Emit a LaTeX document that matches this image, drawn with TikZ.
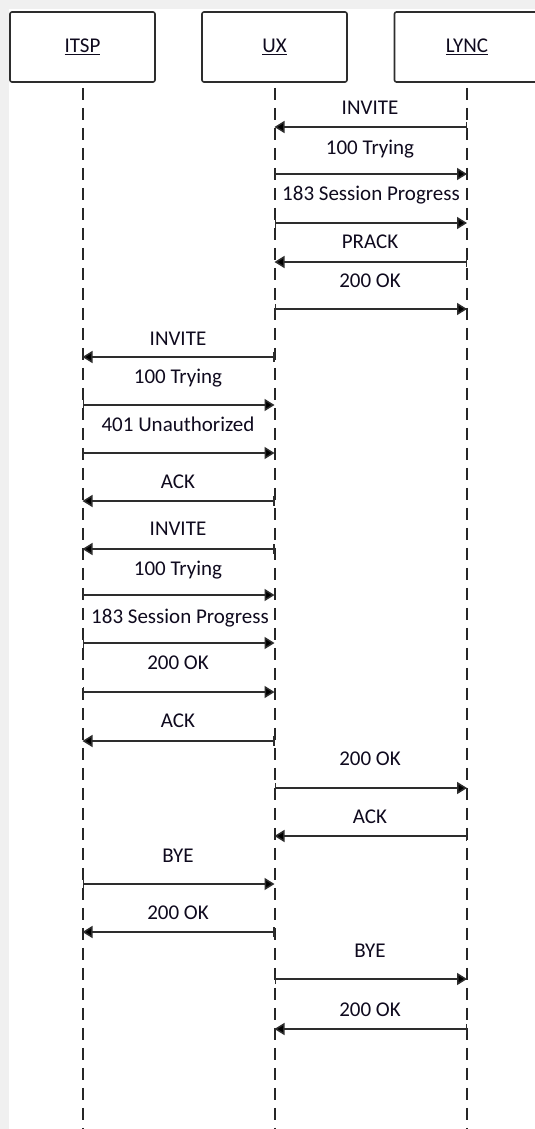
\documentclass[tikz,border=0pt]{standalone}
\usepackage{fontspec}
\setmainfont{Carlito}
\usepackage{xcolor}
\definecolor{sqgray}{RGB}{240,240,240}
\definecolor{sqline}{RGB}{45,45,45}
\definecolor{sqtext}{RGB}{15,10,30}
\usepackage{tikz}
\usetikzlibrary{arrows.meta}

\begin{document}
\begin{tikzpicture}[x=1pt, y=-1pt,
  actor/.style={draw=sqline, line width=1.6pt, rounded corners=2pt, fill=white,
      minimum width=145pt, minimum height=70pt, inner sep=0pt,
      font=\fontsize{21}{24}\selectfont, text=sqtext},
  lifeline/.style={draw=black!85, line width=2pt, dash pattern=on 12pt off 8pt},
  msg/.style={draw=sqline, line width=1.5pt,
      arrows={Bar[width=10pt]-Triangle[length=10pt, width=12pt, fill=black]}},
  lbl/.style={font=\fontsize{21}{24}\selectfont, text=sqtext, anchor=base, inner sep=0pt}]

% Canvas
\clip (0,0) rectangle (535,1129);
\fill[sqgray] (0,0) rectangle (535,1129);
\fill[white] (8.5,9) rectangle (535,1129);

% Participants
\node[actor] (itsp) at (82.5,47) {\underline{ITSP}};
\node[actor] (ux)   at (274.5,47) {\underline{UX}};
\node[actor] (lync) at (467,47) {\underline{LYNC}};

% Lifelines
\draw[lifeline] ([yshift=-5pt]itsp.south) -- (itsp |- 0,1140);
\draw[lifeline] ([yshift=-5pt]ux.south) -- (ux |- 0,1140);
\draw[lifeline] ([yshift=-5pt]lync.south) -- (lync |- 0,1140);

% Call from Lync to UX
\node[lbl] (msg1) at (370,115) {INVITE};
\draw[msg] (lync |- 0,127) -- (ux |- 0,127);
\node[lbl] (msg2) at (370,154) {100 Trying};
\draw[msg] (ux |- 0,174) -- (lync |- 0,174);
\node[lbl] (msg3) at (371,200) {183 Session Progress};
\draw[msg] (ux |- 0,223) -- (lync |- 0,223);
\node[lbl] (msg4) at (370,248) {PRACK};
\draw[msg] (lync |- 0,262) -- (ux |- 0,262);
\node[lbl] (msg5) at (370,287) {200 OK};
\draw[msg] (ux |- 0,309) -- (lync |- 0,309);

% First INVITE to the ITSP, challenged
\node[lbl] (msg6) at (178,345) {INVITE};
\draw[msg] (ux |- 0,357) -- (itsp |- 0,357);
\node[lbl] (msg7) at (178,383) {100 Trying};
\draw[msg] (itsp |- 0,405) -- (ux |- 0,405);
\node[lbl] (msg8) at (178,431) {401 Unauthorized};
\draw[msg] (itsp |- 0,453) -- (ux |- 0,453);
\node[lbl] (msg9) at (178,488) {ACK};
\draw[msg] (ux |- 0,501) -- (itsp |- 0,501);

% Second INVITE to the ITSP
\node[lbl] (msg10) at (178,535) {INVITE};
\draw[msg] (ux |- 0,549) -- (itsp |- 0,549);
\node[lbl] (msg11) at (178,575) {100 Trying};
\draw[msg] (itsp |- 0,595) -- (ux |- 0,595);
\node[lbl] (msg12) at (180,623) {183 Session Progress};
\draw[msg] (itsp |- 0,643) -- (ux |- 0,643);
\node[lbl] (msg13) at (178,669) {200 OK};
\draw[msg] (itsp |- 0,692) -- (ux |- 0,692);
\node[lbl] (msg14) at (178,727) {ACK};
\draw[msg] (ux |- 0,741) -- (itsp |- 0,741);

% Answer back to Lync
\node[lbl] (msg15) at (370,765) {200 OK};
\draw[msg] (ux |- 0,788) -- (lync |- 0,788);
\node[lbl] (msg16) at (370,823) {ACK};
\draw[msg] (lync |- 0,836) -- (ux |- 0,836);

% Teardown
\node[lbl] (msg17) at (178,862) {BYE};
\draw[msg] (itsp |- 0,884) -- (ux |- 0,884);
\node[lbl] (msg18) at (178,919) {200 OK};
\draw[msg] (ux |- 0,932) -- (itsp |- 0,932);
\node[lbl] (msg19) at (370,957) {BYE};
\draw[msg] (ux |- 0,979) -- (lync |- 0,979);
\node[lbl] (msg20) at (370,1016) {200 OK};
\draw[msg] (lync |- 0,1029) -- (ux |- 0,1029);

\end{tikzpicture}
\end{document}
